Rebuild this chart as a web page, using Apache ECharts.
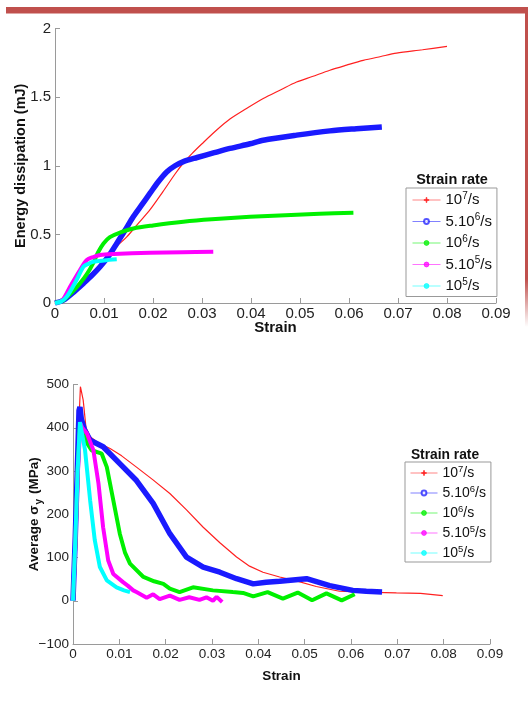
<!DOCTYPE html>
<html>
<head>
<meta charset="utf-8">
<script src="https://cdn.jsdelivr.net/npm/echarts@6/dist/echarts.min.js"></script>
<style>
  html, body { margin: 0; padding: 0; background: #fff; }
  #main { width: 529px; height: 706px; }
</style>
</head>
<body>
<div id="main"></div>
<script>
// legend names (strain rates)
var rateNames = ['10⁷/s', '5.10⁶/s', '10⁶/s', '5.10⁵/s', '10⁵/s']
var rateLabels = ['10{sup|7}/s', '5.10{sup|6}/s', '10{sup|6}/s', '5.10{sup|5}/s', '10{sup|5}/s']

// energy dissipation (mJ) vs strain
var energyRed = [[0, 0], [0.0015, 0.01], [0.003, 0.06], [0.005, 0.13], [0.0075, 0.22], [0.01, 0.31], [0.0125, 0.41], [0.0146, 0.48], [0.017, 0.58], [0.0194, 0.68], [0.022, 0.81], [0.0245, 0.94], [0.0262, 1.02], [0.028, 1.09], [0.03, 1.16], [0.033, 1.26], [0.0357, 1.34], [0.039, 1.415], [0.0425, 1.49], [0.046, 1.552], [0.0493, 1.61], [0.0525, 1.65], [0.0561, 1.696], [0.0595, 1.733], [0.0629, 1.768], [0.0665, 1.796], [0.0697, 1.82], [0.075, 1.845], [0.08, 1.87]]
var energyBlue = [[0, 0], [0.0017, 0.02], [0.004, 0.085], [0.0058, 0.143], [0.0075, 0.2], [0.0092, 0.264], [0.011, 0.345], [0.0126, 0.434], [0.0143, 0.53], [0.016, 0.63], [0.0177, 0.715], [0.0194, 0.8], [0.021, 0.88], [0.0228, 0.955], [0.0245, 1.0], [0.0262, 1.03], [0.029, 1.06], [0.0325, 1.095], [0.0357, 1.126], [0.0398, 1.16], [0.0425, 1.186], [0.0493, 1.223], [0.0561, 1.254], [0.0615, 1.27], [0.0667, 1.283]]
var energyGreen = [[0, 0], [0.0017, 0.02], [0.0035, 0.08], [0.0051, 0.143], [0.0065, 0.21], [0.0078, 0.29], [0.0088, 0.37], [0.0099, 0.434], [0.0112, 0.48], [0.013, 0.51], [0.016, 0.543], [0.02, 0.565], [0.0262, 0.592], [0.032, 0.61], [0.0398, 0.628], [0.047, 0.64], [0.054, 0.65], [0.0609, 0.657]]
var energyMagenta = [[0, 0], [0.0015, 0.02], [0.0031, 0.12], [0.0051, 0.24], [0.0065, 0.313], [0.0078, 0.335], [0.0092, 0.35], [0.012, 0.357], [0.0194, 0.366], [0.026, 0.37], [0.0323, 0.373]]
var energyCyan = [[0, 0], [0.0012, 0.01], [0.0024, 0.046], [0.0044, 0.167], [0.0058, 0.264], [0.0068, 0.285], [0.0078, 0.3], [0.01, 0.31], [0.0126, 0.318]]

// average sigma_y (MPa) vs strain
var stressRed = [[0, 0], [0.0005, 120], [0.001, 300], [0.0013, 420], [0.0016, 495], [0.0022, 464], [0.0028, 400], [0.0037, 379], [0.0055, 365], [0.008, 352], [0.0105, 335], [0.0137, 309], [0.0172, 280], [0.0209, 248], [0.0245, 210], [0.0281, 170], [0.0317, 134], [0.0353, 101], [0.0381, 80], [0.041, 66], [0.0446, 55], [0.0482, 46], [0.0525, 33], [0.0575, 22], [0.0626, 20], [0.0698, 18], [0.075, 17], [0.0798, 12]]
var stressBlue = [[0, 0], [0.0005, 150], [0.001, 330], [0.0013, 440], [0.0015, 448], [0.0018, 420], [0.0025, 395], [0.0037, 371], [0.0065, 356], [0.0101, 317], [0.0137, 278], [0.0173, 225], [0.0209, 155], [0.0245, 101], [0.0281, 78], [0.0317, 66], [0.0353, 51], [0.0389, 39], [0.0417, 43], [0.0446, 45], [0.0504, 51], [0.0554, 35], [0.0604, 24], [0.0633, 22], [0.0667, 20]]
var stressGreen = [[0, 0], [0.0005, 130], [0.001, 300], [0.0015, 405], [0.002, 395], [0.003, 365], [0.004, 348], [0.0062, 340], [0.0073, 309], [0.0087, 232], [0.0101, 155], [0.0112, 112], [0.0123, 86], [0.0152, 55], [0.0175, 45], [0.0195, 39], [0.0209, 28], [0.023, 20], [0.0259, 31], [0.0302, 24], [0.0345, 20], [0.0367, 18], [0.0389, 10], [0.042, 20], [0.0453, 5], [0.0485, 19], [0.0516, 1], [0.0547, 17], [0.058, 1], [0.0608, 15]]
var stressMagenta = [[0, 0], [0.0005, 130], [0.001, 290], [0.0016, 410], [0.002, 400], [0.003, 387], [0.0044, 348], [0.0055, 271], [0.0065, 170], [0.0076, 93], [0.0087, 62], [0.0108, 43], [0.0118, 35], [0.013, 24], [0.0137, 20], [0.0159, 7], [0.0173, 15], [0.0187, 4], [0.0209, 12], [0.023, 2], [0.0251, 8], [0.0273, 2], [0.0288, 8], [0.0302, 0], [0.031, 9], [0.0322, -3]]
var stressCyan = [[0, 0], [0.0005, 140], [0.001, 300], [0.0015, 413], [0.0026, 348], [0.0037, 232], [0.0047, 140], [0.0058, 78], [0.0073, 47], [0.0094, 31], [0.011, 24], [0.0123, 20]]

var colors = ['#ff2020', '#1a1aff', '#00f000', '#ff00ff', '#00ffff']
var widths = [1.2, 5.5, 4, 4, 4]
var plusMark = 'path://M0,3.4 L8,3.4 L8,4.6 L0,4.6 Z M3.4,0 L4.6,0 L4.6,8 L3.4,8 Z'
var symbols = [plusMark, 'emptyCircle', 'circle', 'circle', 'circle']
var font = 'Liberation Sans'

function tickFmt(v) {
  return String(parseFloat(v.toFixed(2))).replace('-', '\u2212')
}

function axisX(grid, size, gap) {
  return {
    type: 'value',
    gridIndex: grid,
    min: 0,
    max: 0.09,
    interval: 0.01,
    name: 'Strain',
    nameLocation: 'middle',
    nameGap: gap,
    nameMoveOverlap: false,
    nameTextStyle: { fontWeight: 'bold', fontSize: size, color: '#111', fontFamily: font },
    axisLine: { onZero: false, lineStyle: { color: '#9a9a9a' } },
    axisTick: { inside: true, length: 5, lineStyle: { color: '#9a9a9a' } },
    axisLabel: { formatter: tickFmt, fontSize: size, color: '#222', margin: 3, fontFamily: font },
    splitLine: { show: false }
  }
}

function makeSeries(grid, list) {
  return list.map(function (d, i) {
    return {
      name: rateNames[i],
      type: 'line',
      xAxisIndex: grid,
      yAxisIndex: grid,
      data: d,
      symbol: symbols[i],
      symbolSize: 5,
      showSymbol: false,
      smooth: grid === 0 ? 0.3 : false,
      lineStyle: { color: colors[i], width: widths[i] },
      itemStyle: { color: colors[i] },
      z: 2 + i
    }
  })
}

function legendData() {
  return rateNames.map(function (n, i) {
    return {
      name: n,
      lineStyle: { color: colors[i], width: 1, opacity: 0.55 },
      itemStyle: { color: colors[i], borderColor: colors[i], borderWidth: 1, opacity: 0.75 }
    }
  })
}

function legendFmt(name) {
  return rateLabels[rateNames.indexOf(name)]
}

var myChart = echarts.init(document.getElementById('main'))
var option = {
  animation: false,
  backgroundColor: '#fff',
  textStyle: { fontFamily: font },
  graphic: [
    { type: 'rect', shape: { x: 6, y: 7, width: 521, height: 6.5 }, style: { fill: '#c0504d' } },
    {
      type: 'rect',
      shape: { x: 525, y: 7, width: 3, height: 320 },
      style: {
        fill: new echarts.graphic.LinearGradient(0, 0, 0, 1, [
          { offset: 0, color: '#c0504d' },
          { offset: 0.85, color: '#c0504d' },
          { offset: 1, color: 'rgba(192,80,77,0)' }
        ])
      }
    },
    {
      type: 'text', x: 452, y: 180,
      style: { text: 'Strain rate', font: 'bold 14.5px Liberation Sans', fill: '#111', align: 'center', verticalAlign: 'middle' }
    },
    {
      type: 'text', x: 445, y: 455,
      style: { text: 'Strain rate', font: 'bold 13.8px Liberation Sans', fill: '#111', align: 'center', verticalAlign: 'middle' }
    }
  ],
  grid: [
    { left: 55, top: 28.5, width: 441, height: 274.5 },
    { left: 73, top: 384.5, width: 417, height: 259.5 }
  ],
  legend: [
    {
      orient: 'vertical', left: 406, top: 188,
      padding: [3, 5, 3, 6], itemGap: 5, itemWidth: 28, itemHeight: 6,
      borderColor: '#999', borderWidth: 1, backgroundColor: '#fff',
      formatter: legendFmt,
      textStyle: { fontSize: 15, color: '#111', fontFamily: font, rich: { sup: { fontSize: 10, color: '#111', padding: [0, 0, 8, 0] } } },
      data: legendData()
    },
    {
      orient: 'vertical', left: 405, top: 462,
      padding: [2, 5, 2, 5], itemGap: 4, itemWidth: 27, itemHeight: 6,
      borderColor: '#999', borderWidth: 1, backgroundColor: '#fff',
      formatter: legendFmt,
      textStyle: { fontSize: 14, color: '#111', fontFamily: font, rich: { sup: { fontSize: 9.5, color: '#111', padding: [0, 0, 8, 0] } } },
      data: legendData()
    }
  ],
  xAxis: [axisX(0, 15, 17), axisX(1, 13.5, 25)],
  yAxis: [
    {
      type: 'value', gridIndex: 0, min: 0, max: 2, interval: 0.5,
      name: 'Energy dissipation (mJ)', nameLocation: 'middle', nameGap: 27, nameMoveOverlap: false,
      nameTextStyle: { fontWeight: 'bold', fontSize: 14.5, color: '#111', fontFamily: font },
      axisLine: { show: true, lineStyle: { color: '#9a9a9a' } },
      axisTick: { show: true, inside: true, length: 5, lineStyle: { color: '#9a9a9a' } },
      axisLabel: { formatter: tickFmt, fontSize: 15, color: '#222', margin: 4, fontFamily: font },
      splitLine: { show: false }
    },
    {
      type: 'value', gridIndex: 1, min: -100, max: 500, interval: 100,
      name: 'Average σ{sub|y} (MPa)', nameLocation: 'middle', nameGap: 29, nameMoveOverlap: false,
      nameTextStyle: {
        fontWeight: 'bold', fontSize: 13.5, color: '#111', fontFamily: font,
        rich: { sub: { fontSize: 10, fontWeight: 'bold', color: '#111', padding: [9, 1, 0, 1] } }
      },
      axisLine: { show: true, lineStyle: { color: '#9a9a9a' } },
      axisTick: { show: true, inside: true, length: 5, lineStyle: { color: '#9a9a9a' } },
      axisLabel: { formatter: tickFmt, fontSize: 13.5, color: '#222', margin: 4, fontFamily: font },
      splitLine: { show: false }
    }
  ],
  series: makeSeries(0, [energyRed, energyBlue, energyGreen, energyMagenta, energyCyan])
    .concat(makeSeries(1, [stressRed, stressBlue, stressGreen, stressMagenta, stressCyan]))
}
myChart.setOption(option)
</script>
</body>
</html>
